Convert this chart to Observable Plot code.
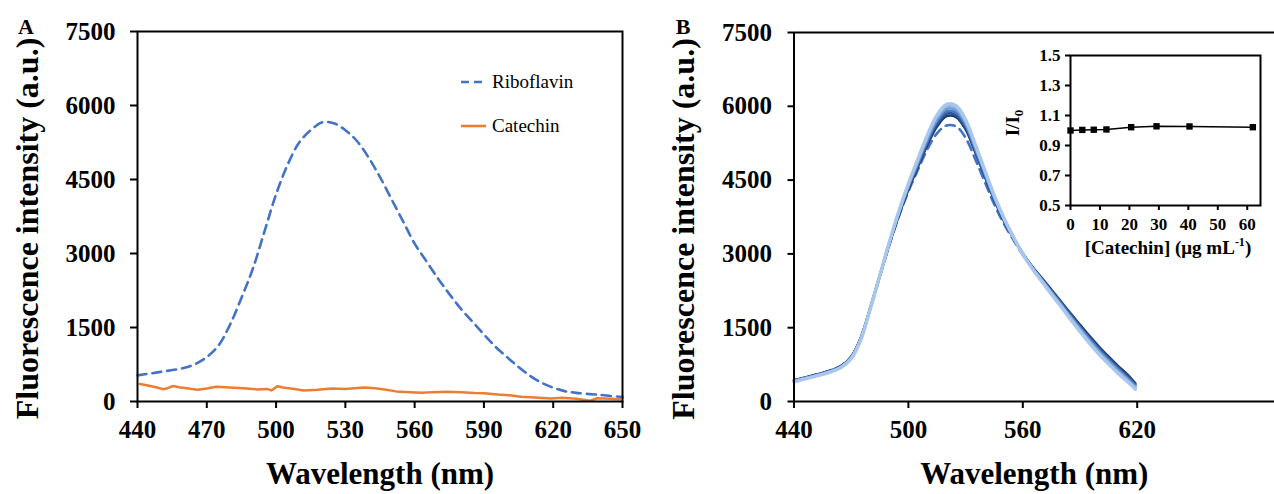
<!DOCTYPE html>
<html><head><meta charset="utf-8">
<script src="https://cdn.jsdelivr.net/npm/d3@7"></script>
<script src="https://cdn.jsdelivr.net/npm/@observablehq/plot@0.6"></script>
<style>
body{margin:0;background:#fff;}
#wrap{position:relative;width:1274px;height:494px;overflow:hidden;font-family:"Liberation Serif","Times New Roman",serif;color:#000;}
#wrap > *{position:absolute;}
</style></head><body><div id="wrap"></div>
<script>
// ---------- DATA ----------
const yTicksMain = [0, 1500, 3000, 4500, 6000, 7500];
const xTicksA = [440, 470, 500, 530, 560, 590, 620, 650];
const xTicksB = [440, 500, 560, 620];
const yTitle = "Fluorescence intensity (a.u.)";
const xTitle = "Wavelength (nm)";
const panelLabels = ["A", "B"];
const legendLabels = ["Riboflavin", "Catechin"];

// Panel A: riboflavin
const wlRibA = [440,450,460,465,470,475,480,485,490,495,500,505,510,515,520,525,530,535,540,545,550,555,560,565,570,575,580,585,590,595,600,605,610,615,620,625,630,640,650];
const ribA =   [530,600,680,760,900,1130,1550,2100,2700,3450,4200,4800,5250,5500,5660,5640,5500,5280,4950,4550,4100,3650,3200,2850,2500,2180,1880,1620,1360,1110,900,700,520,380,280,210,175,135,90];
// Panel A: catechin
const wlCatA = [441,444,448,451,453,455.5,458,462,466,470,474,480,486,492,496,498,500.5,503,508,512,518,524,530,538,543,547,552,558,563,568,574,580,586,590,596,601,606,612,619,624,630,636,639,645,649];
const catA =   [355,330,290,250,270,315,290,265,240,265,300,285,270,245,255,225,310,285,255,225,240,265,255,285,270,245,205,190,175,190,200,185,170,165,140,125,95,80,60,78,55,15,65,55,45];

// Panel B: spectra with increasing catechin and riboflavin alone (dashed)
const wlB = [440,445,450,455,460,465,470,475,480,485,490,495,500,505,510,515,520,525,530,535,540,545,550,555,560,565,570,575,580,585,590,595,600,605,610,615,619];
const specB = [
  [430,480,530,580,640,730,910,1290,1900,2550,3200,3790,4310,4770,5220,5590,5800,5780,5530,5070,4580,4100,3680,3330,3010,2740,2510,2270,2030,1790,1560,1330,1110,910,720,540,370],
  [425,475,525,575,635,725,905,1285,1900,2555,3210,3800,4335,4800,5260,5640,5850,5820,5570,5100,4600,4110,3690,3330,3000,2730,2490,2250,2010,1770,1530,1300,1080,880,690,510,350],
  [420,470,520,570,630,720,900,1280,1900,2560,3220,3820,4360,4830,5300,5690,5900,5870,5610,5130,4630,4130,3700,3330,2990,2720,2480,2230,1990,1740,1500,1270,1050,850,660,480,330],
  [415,465,515,565,625,715,890,1270,1895,2560,3230,3840,4385,4870,5340,5730,5950,5920,5650,5170,4660,4150,3720,3340,3000,2720,2470,2220,1970,1720,1480,1240,1020,820,630,455,300],
  [410,460,510,560,620,710,885,1265,1890,2560,3235,3855,4410,4900,5380,5780,6000,5970,5690,5200,4690,4170,3730,3350,3000,2710,2460,2200,1950,1700,1450,1210,990,790,600,430,280],
  [400,450,500,550,610,700,870,1250,1880,2560,3240,3870,4430,4930,5420,5820,6040,6010,5730,5230,4710,4190,3740,3350,2990,2700,2440,2180,1930,1670,1420,1180,960,760,570,400,250]
];
const specColors = ["#203c6e","#2f5597","#4a78be","#6e99d4","#8fb2e0","#a9c6ec"];
const ribB = [430,480,530,580,640,730,905,1280,1890,2540,3180,3760,4270,4710,5130,5450,5610,5590,5360,4930,4470,4010,3620,3290,2980,2710,2480,2250,2010,1770,1530,1300,1080,880,690,510,350];

// Inset
const insetConc  = [0, 4.0, 7.9, 12.2, 20.6, 29.2, 40.4, 61.9];
const insetRatio = [1.000, 1.004, 1.005, 1.007, 1.022, 1.028, 1.027, 1.022];
const insetErr   = [0.005, 0.006, 0.006, 0.008, 0.010, 0.015, 0.010, 0.020];
const insetXTicks = [0, 10, 20, 30, 40, 50, 60];
const insetYTicks = [0.5, 0.7, 0.9, 1.1, 1.3, 1.5];

// ---------- BUILD ----------
const wrap = document.getElementById("wrap");
const FONT = '"Liberation Serif","Times New Roman",serif';
const styleBase = {fontFamily: FONT, background: "transparent", overflow: "visible"};
const place = (el, left, top) => { el.style.left = left + "px"; el.style.top = top + "px"; wrap.appendChild(el); return el; };

const ribRowsA = wlRibA.map((w, i) => ({w, v: ribA[i]}));
const catRowsA = wlCatA.map((w, i) => ({w, v: catA[i]}));

const axisText = {fontSize: 25, fontWeight: "bold", strokeWidth: 2, label: null, tickFormat: d => String(d)};
const titleOpts = {text: d => d, fontWeight: "bold", textAnchor: "middle", lineAnchor: "middle"};

const plotA = Plot.plot({
  width: 640, height: 494,
  marginLeft: 137, marginRight: 18, marginTop: 31, marginBottom: 93,
  style: styleBase,
  x: {domain: [440, 650]},
  y: {domain: [0, 7500]},
  marks: [
    Plot.line(catRowsA, {x: "w", y: "v", stroke: "#ed7d31", strokeWidth: 2.5}),
    Plot.line(ribRowsA, {x: "w", y: "v", stroke: "#4472c4", strokeWidth: 2.6, strokeDasharray: "9,6", curve: "catmull-rom"}),
    Plot.frame({stroke: "#000", strokeWidth: 2}),
    Plot.axisX({ticks: xTicksA, tickSize: 7, tickPadding: 12, ...axisText}),
    Plot.axisY({ticks: yTicksMain, tickSize: 7, tickPadding: 15, ...axisText}),
    Plot.text([yTitle], {...titleOpts, fontSize: 32, frameAnchor: "left", dx: -110, dy: 12, rotate: -90}),
    Plot.text([xTitle], {...titleOpts, fontSize: 31, frameAnchor: "bottom", dy: 73})
  ]
});
place(plotA, 0, 0);

const bMarks = [];
bMarks.push(Plot.line(wlB.map((w, i) => ({w, v: ribB[i]})), {x: "w", y: "v", stroke: "#4472c4", strokeWidth: 2.6, strokeDasharray: "9,6", curve: "catmull-rom"}));
specB.forEach((s, k) => {
  bMarks.push(Plot.line(wlB.map((w, i) => ({w, v: s[i]})), {x: "w", y: "v", stroke: specColors[k], strokeWidth: k === specB.length - 1 ? 3.4 : 2.6, curve: "catmull-rom"}));
});
const plotB = Plot.plot({
  width: 634, height: 494,
  marginLeft: 153.5, marginRight: 0, marginTop: 32, marginBottom: 93,
  style: styleBase,
  x: {domain: [440, 692]},
  y: {domain: [0, 7500]},
  marks: [
    ...bMarks,
    Plot.ruleY([7500], {stroke: "#000", strokeWidth: 2}),
    Plot.ruleY([0], {stroke: "#000", strokeWidth: 2}),
    Plot.ruleX([440], {stroke: "#000", strokeWidth: 2}),
    Plot.axisX({ticks: xTicksB, tickSize: 7, tickPadding: 12, ...axisText}),
    Plot.axisY({ticks: yTicksMain, tickSize: 6, tickPadding: 16, ...axisText}),
    Plot.text([yTitle], {...titleOpts, fontSize: 32, frameAnchor: "left", dx: -110.5, dy: 12, rotate: -90}),
    Plot.text([xTitle], {...titleOpts, fontSize: 31, frameAnchor: "bottom", dy: 73})
  ]
});
place(plotB, 640, 0);

const insetRows = insetConc.map((c, i) => ({c, r: insetRatio[i], e: insetErr[i]}));
const inset = Plot.plot({
  width: 264, height: 230,
  marginLeft: 60, marginRight: 14, marginTop: 15, marginBottom: 65,
  style: styleBase,
  x: {domain: [0, 64.5]},
  y: {domain: [0.5, 1.5]},
  marks: [
    Plot.ruleX(insetRows, {x: "c", y1: d => d.r - d.e, y2: d => d.r + d.e, stroke: "#888", strokeWidth: 1.2}),
    Plot.line(insetRows, {x: "c", y: "r", stroke: "#000", strokeWidth: 1.5}),
    Plot.dot(insetRows, {x: "c", y: "r", symbol: "square", fill: "#000", r: 3.6}),
    Plot.frame({stroke: "#000", strokeWidth: 2}),
    Plot.axisX({ticks: insetXTicks, tickSize: 5, tickPadding: 7, fontSize: 17, fontWeight: "bold", strokeWidth: 2, label: null, tickFormat: d => String(d)}),
    Plot.axisY({ticks: insetYTicks, tickSize: 5, tickPadding: 5, fontSize: 17, fontWeight: "bold", strokeWidth: 2, label: null, tickFormat: d3.format(".1f")})
  ]
});
place(inset, 1010, 40);

// ---------- annotation overlay (panel labels, legend, inset titles) ----------
const ns = "http://www.w3.org/2000/svg";
const ov = document.createElementNS(ns, "svg");
ov.setAttribute("width", 1274); ov.setAttribute("height", 494);
ov.style.pointerEvents = "none";
ov.setAttribute("font-family", FONT);
const mk = (tag, attrs, parent = ov) => { const e = document.createElementNS(ns, tag); for (const k in attrs) e.setAttribute(k, attrs[k]); parent.appendChild(e); return e; };

// panel labels
[[panelLabels[0], 26], [panelLabels[1], 683]].forEach(([t, x]) => {
  const e = mk("text", {x, y: 34, "font-size": 22, "font-weight": "bold", "text-anchor": "middle"});
  e.textContent = t;
});

// legend for panel A
const legStyles = [{stroke: "#4472c4", dash: "8,5"}, {stroke: "#ed7d31", dash: null}];
legendLabels.forEach((lab, i) => {
  const y = 82 + i * 44;
  const a = {x1: 461, x2: 486, y1: y, y2: y, stroke: legStyles[i].stroke, "stroke-width": 2.6};
  if (legStyles[i].dash) a["stroke-dasharray"] = legStyles[i].dash;
  mk("line", a);
  const t = mk("text", {x: 492, y: y + 6, "font-size": 19});
  t.textContent = lab;
});

// inset y title: I/I0 (rotated, subscript)
const iy = mk("text", {transform: "translate(1019,123) rotate(-90)", "font-size": 19, "font-weight": "bold", "text-anchor": "middle"});
mk("tspan", {}, iy).textContent = "I/I";
mk("tspan", {"font-size": 13, dy: 4}, iy).textContent = "0";
// inset x title with superscript
const ix = mk("text", {x: 1168, y: 254, "font-size": 19, "font-weight": "bold", "text-anchor": "middle"});
mk("tspan", {}, ix).textContent = "[Catechin] (μg mL";
mk("tspan", {"font-size": 12, dy: -8}, ix).textContent = "-1";
mk("tspan", {dy: 8}, ix).textContent = ")";
place(ov, 0, 0);
</script></body></html>
